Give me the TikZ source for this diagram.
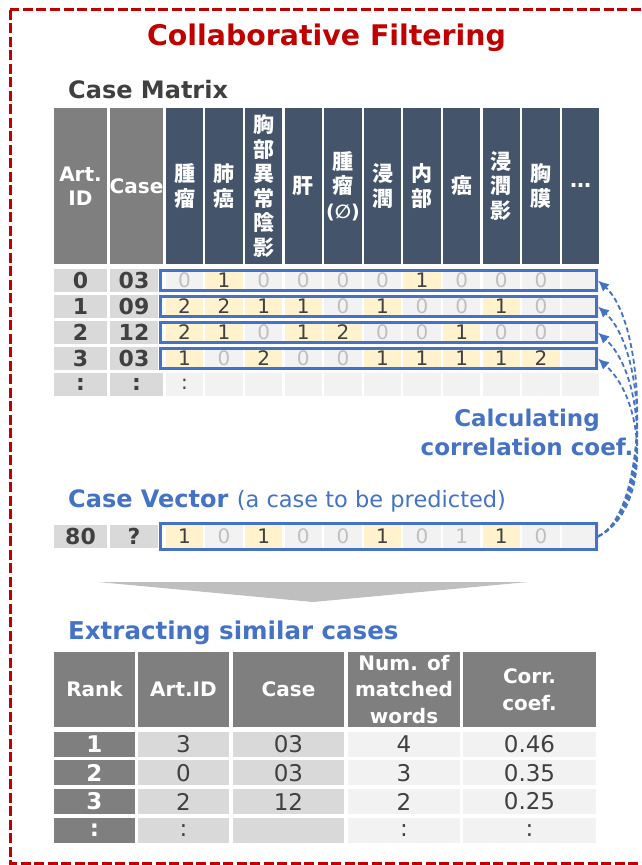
\documentclass[tikz,border=0pt]{standalone}
\usepackage{fontspec}
\setmainfont{DejaVu Sans}
\newfontfamily\jpfont{Noto Sans CJK JP}
\usetikzlibrary{arrows.meta}
\definecolor{cfred}{RGB}{192, 0, 0}
\definecolor{cfblue}{RGB}{68, 114, 196}
\definecolor{hdrdark}{RGB}{68, 84, 106}
\definecolor{hdrgray}{RGB}{127, 127, 127}
\definecolor{idgray}{RGB}{217, 217, 217}
\definecolor{cellgray}{RGB}{242, 242, 242}
\definecolor{hiyellow}{RGB}{255, 242, 204}
\definecolor{zerogray}{RGB}{191, 191, 191}
\definecolor{textdark}{RGB}{64, 64, 64}
\newcommand{\fsz}[2]{\fontsize{#1}{#2}\selectfont}

\tikzset{
    graycell/.style={fill=hdrgray, text=white, minimum width=53, minimum height=156, inner sep=0pt, align=center, font=\bfseries\fsz{20pt}{24pt}},
    hdcell/.style={fill=hdrdark, text=white, minimum width=37.5, minimum height=156, inner sep=0pt, align=center, font=\jpfont\bfseries\fsz{21pt}{24.5pt}},
    idcell/.style={fill=idgray, text=textdark, minimum height=22.5, inner sep=0pt, font=\bfseries\fsz{22pt}{24pt}},
    vallo/.style={fill=cellgray, text=zerogray, minimum width=37.5, minimum height=22.5, inner sep=0pt, font=\fsz{20pt}{24pt}},
    valhi/.style={vallo, fill=hiyellow, text=textdark},
    valdot/.style={vallo, text=textdark},
    rowbox/.style={draw=cfblue, line width=3pt, minimum width=436, minimum height=20, inner sep=0pt},
    corrline/.style={draw=cfblue, line width=1.8pt, dash pattern=on 5pt off 3pt, -{Latex[length=11pt, width=10pt]}},
    tblhead/.style={fill=hdrgray, text=white, minimum height=75, inner sep=0pt, align=center, font=\bfseries\fsz{20pt}{26.5pt}},
    tblcell/.style={text=textdark, minimum height=25, inner sep=0pt, font=\fsz{23pt}{26pt}},
}

\begin{document}
\begin{tikzpicture}[x=1pt, y=-1pt]
    \clip (0,0) rectangle (642,865);
    \draw[cfred, line width=3pt, dash pattern=on 10pt off 3.5pt] (10,9.5) rectangle (680,863);

    \node[anchor=base, text=cfred, font=\bfseries\fsz{28.4pt}{30pt}] (title) at (326.5,45) {Collaborative Filtering};
    \node[anchor=base west, inner sep=0pt, text=textdark, font=\bfseries\fsz{24pt}{28pt}] (mtxlbl) at (68,98) {Case Matrix};

    % matrix header
    \node[graycell] (hid) at (80.5,186) {Art.\\ID};
    \node[graycell] (hcase) at (136.5,186) {Case};
    \foreach \t [count=\k from 0] in {{腫\\瘤}, {肺\\癌}, {胸\\部\\異\\常\\陰\\影}, 肝, {腫\\瘤\\{\rmfamily\fsz{19pt}{24.5pt}(∅)}}, {浸\\潤}, {内\\部}, 癌, {浸\\潤\\影}, {胸\\膜}, {\rmfamily …}}
        \node[hdcell] (h\k) at (184.5+39.6*\k,186) {\t};

    % matrix rows
    \foreach \r/\aid/\cid/\vals in {
        0/0/03/{vallo/0, valhi/1, vallo/0, vallo/0, vallo/0, vallo/0, valhi/1, vallo/0, vallo/0, vallo/0, vallo/{}},
        1/1/09/{valhi/2, valhi/2, valhi/1, valhi/1, vallo/0, valhi/1, vallo/0, vallo/0, valhi/1, vallo/0, vallo/{}},
        2/2/12/{valhi/2, valhi/1, vallo/0, valhi/1, valhi/2, vallo/0, vallo/0, valhi/1, vallo/0, vallo/0, vallo/{}},
        3/3/03/{valhi/1, vallo/0, valhi/2, vallo/0, vallo/0, valhi/1, valhi/1, valhi/1, valhi/1, valhi/2, vallo/{}}}
    {
        \node[idcell, minimum width=53] (a\r) at (80.5,280.5+26*\r) {\aid};
        \node[idcell, minimum width=48] (c\r) at (134,280.5+26*\r) {\cid};
        \foreach \s/\t [count=\k from 0] in \vals
            \node[\s] (m\r-\k) at (184.5+39.6*\k,280.5+26*\r) {\t};
        \node[rowbox] (row\r) at (378.5,280.5+26*\r) {};
    }
    \node[idcell, minimum width=53] (a4) at (80.5,384.5) {:};
    \node[idcell, minimum width=53] (c4) at (136.5,384.5) {:};
    \foreach \s/\t [count=\k from 0] in {valdot/:, vallo/{}, vallo/{}, vallo/{}, vallo/{}, vallo/{}, vallo/{}, vallo/{}, vallo/{}, vallo/{}, vallo/{}}
        \node[\s] (m4-\k) at (184.5+39.6*\k,384.5) {\t};

    \node[align=center, text=cfblue, font=\bfseries\fsz{23pt}{29pt}] (calc) at (527,432) {Calculating\\correlation coef.};

    % case vector
    \node[anchor=base west, inner sep=0pt, text=cfblue] (veclbl) at (68,507)
        {\bfseries\fsz{24pt}{28pt}Case Vector \mdseries\fsz{22.5pt}{28pt}(a case to be predicted)};
    \node[idcell, minimum width=53] (av) at (80.5,536.5) {80};
    \node[idcell, minimum width=48] (cv) at (134,536.5) {?};
    \foreach \s/\t [count=\k from 0] in {valhi/1, vallo/0, valhi/1, vallo/0, vallo/0, valhi/1, vallo/0, vallo/1, valhi/1, vallo/0, vallo/{}}
        \node[\s] (mv-\k) at (184.5+39.6*\k,536.5) {\t};
    \node[rowbox, minimum height=26.5] (vec) at (378.5,536.5) {};

    \foreach \r in {0,...,3}
        \draw[corrline] (vec.east) .. controls +(52,-25) and +(50,45) .. (row\r.east);

    \fill[black!25] (98,582) -- (528,582) -- (313,602) -- cycle;

    % similar cases
    \node[anchor=base west, inner sep=0pt, text=cfblue, font=\bfseries\fsz{24.5pt}{28pt}] (simlbl) at (68,639) {Extracting similar cases};
    \foreach \t/\x/\w [count=\k from 0] in {Rank/94.5/81, Art.ID/183.5/91, Case/288.5/111, {Num. of\\matched\\words}/404/112, {Corr.\\coef.}/529.5/133}
        \node[tblhead, minimum width=\w] (t\k) at (\x,689.5) {\t};
    \foreach \rk/\aid/\cid/\num/\cc [count=\i from 0] in {1/3/03/4/0.46, 2/0/03/3/0.35, 3/2/12/2/0.25, :/:/{}/:/:}
    {
        \pgfmathsetmacro\yy{744+28.8*\i}
        \node[tblcell, fill=hdrgray, text=white, minimum width=81, font=\bfseries\fsz{23pt}{26pt}] (rk\i) at (94.5,\yy) {\rk};
        \node[tblcell, fill=idgray, minimum width=91] (ra\i) at (183.5,\yy) {\aid};
        \node[tblcell, fill=idgray, minimum width=111] (rc\i) at (288.5,\yy) {\cid};
        \node[tblcell, fill=cellgray, minimum width=112] (rn\i) at (404,\yy) {\num};
        \node[tblcell, fill=cellgray, minimum width=133] (rr\i) at (529.5,\yy) {\cc};
    }
\end{tikzpicture}
\end{document}
